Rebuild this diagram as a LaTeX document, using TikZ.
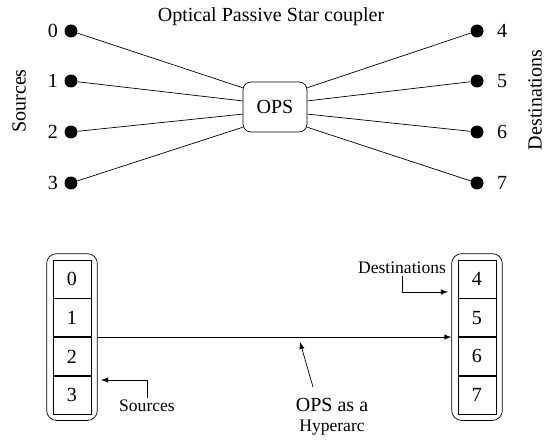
\documentclass[tikz,border=0pt]{standalone}
\usepackage{fontspec}
\setmainfont{Liberation Serif}
\usetikzlibrary{shapes,arrows,positioning,calc,fit}

\begin{document}
\begin{tikzpicture}[
    x=0.02cm, y=-0.02cm,
    >=latex,
    every node/.style={font=\fontsize{11.4}{13.5}\selectfont},
    port/.style={circle, fill=black, inner sep=0pt, minimum size=0.26cm},
    coupler/.style={rectangle, draw=black, rounded corners=0.16cm, minimum width=1.28cm, minimum height=1cm},
    cell/.style={rectangle, draw=black, minimum width=0.76cm, minimum height=0.76cm, inner sep=0pt},
    group/.style={rectangle, draw=black, rounded corners=0.2cm, inner sep=0.12cm},
    note/.style={font=\fontsize{10}{12}\selectfont, inner sep=1pt}
]
\useasboundingbox (0,0) rectangle (545,446);

% Star coupler
\node (title) at (271,17) {Optical Passive Star coupler};
\node[rotate=90] (srctext) at (19,101) {Sources};
\node[rotate=90] (dsttext) at (535,100) {Destinations};
\node[coupler] (ops) at (275,107) {OPS};

% Source ports
\node[port, label=left:0] (s0) at (71,31) {};
\node[port, label=left:1] (s1) at (71,81) {};
\node[port, label=left:2] (s2) at (71,132) {};
\node[port, label=left:3] (s3) at (71,183) {};

% Destination ports
\node[port, label={[label distance=0.14cm]right:4}] (d4) at (477,31) {};
\node[port, label={[label distance=0.14cm]right:5}] (d5) at (477,81) {};
\node[port, label={[label distance=0.14cm]right:6}] (d6) at (477,132) {};
\node[port, label={[label distance=0.14cm]right:7}] (d7) at (477,183) {};

% Fibres
\draw (s0) -- ($(ops.north west)!0.12!(ops.south west)$);
\draw (s1) -- ($(ops.north west)!0.38!(ops.south west)$);
\draw (s2) -- ($(ops.north west)!0.64!(ops.south west)$);
\draw (s3) -- ($(ops.north west)!0.90!(ops.south west)$);
\draw (d4) -- ($(ops.north east)!0.12!(ops.south east)$);
\draw (d5) -- ($(ops.north east)!0.38!(ops.south east)$);
\draw (d6) -- ($(ops.north east)!0.64!(ops.south east)$);
\draw (d7) -- ($(ops.north east)!0.90!(ops.south east)$);

% Hyperarc view
\node[cell] (c0) at (72,279) {0};
\node[cell, below=0cm of c0] (c1) {1};
\node[cell, below=0cm of c1] (c2) {2};
\node[cell, below=0cm of c2] (c3) {3};
\node[group, fit=(c0)(c3)] (srcbox) {};

\node[cell] (c4) at (477,279) {4};
\node[cell, below=0cm of c4] (c5) {5};
\node[cell, below=0cm of c5] (c6) {6};
\node[cell, below=0cm of c6] (c7) {7};
\node[group, fit=(c4)(c7)] (dstbox) {};

\draw[->] (srcbox) -- (dstbox);

% Labels
\node[note] (srclbl) at (147,406) {Sources};
\coordinate (srctip) at (101,380);
\draw[->] (srclbl.north) |- (srctip);

\node[note] (dstlbl) at (402,268) {Destinations};
\coordinate (dsttip) at (448,292);
\draw[->] (dstlbl.south) |- (dsttip);

\node[align=center] (hyplbl) at (332,417) {OPS as a\\[-2pt]{\fontsize{10}{12}\selectfont Hyperarc}};
\coordinate (hyptail) at (313,387);
\coordinate (hyptip) at (300,342);
\draw[->] (hyptail) -- (hyptip);

\end{tikzpicture}
\end{document}
